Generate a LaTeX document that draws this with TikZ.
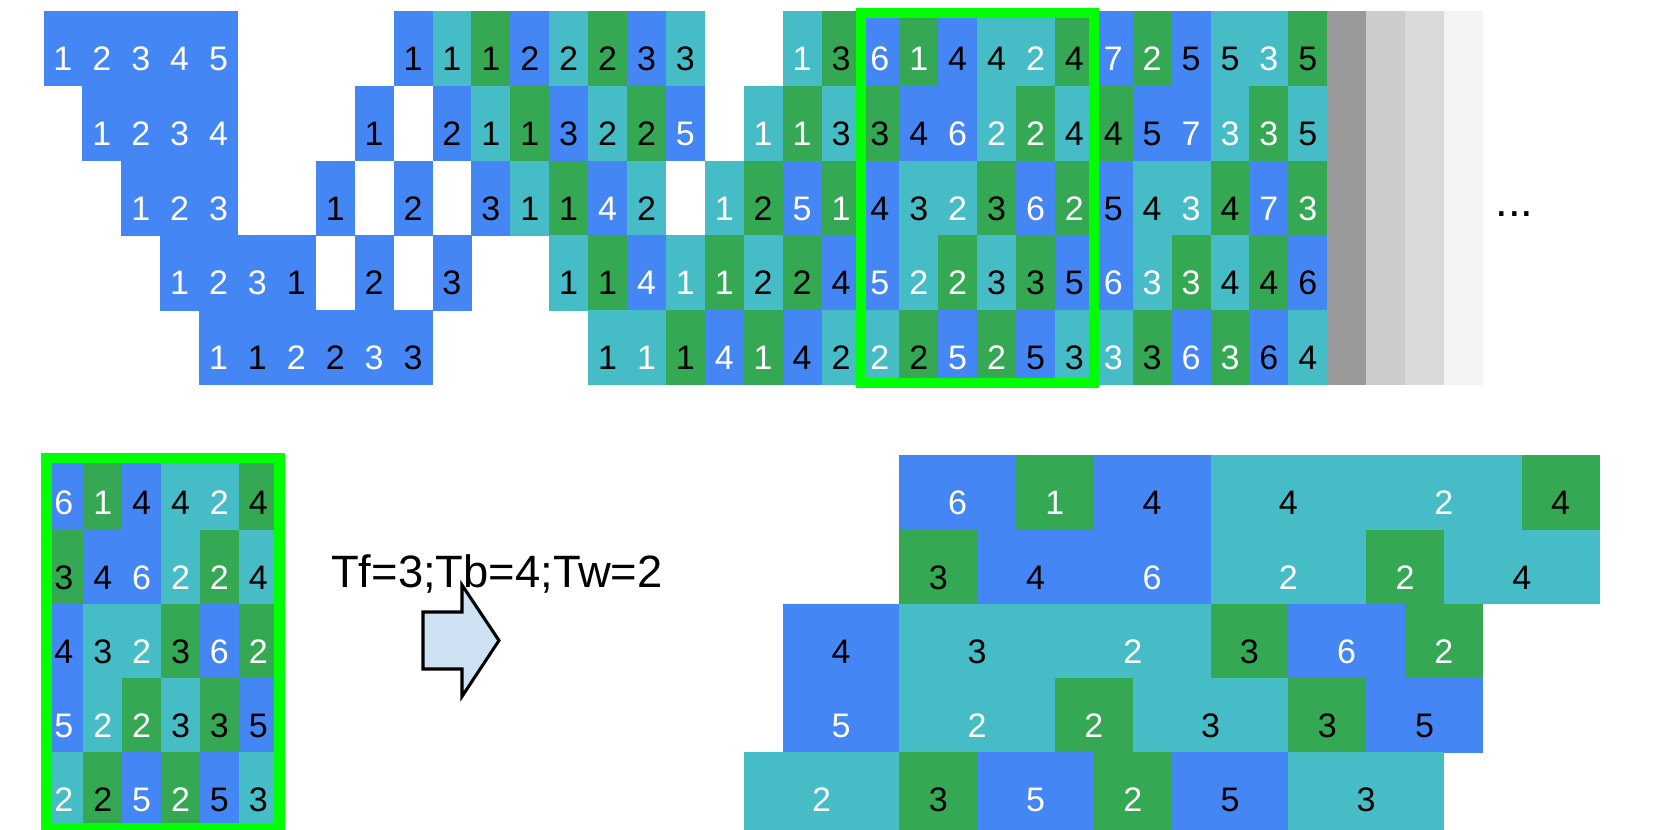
\documentclass[tikz,border=0pt]{standalone}
\usepackage{fontspec}
\setmainfont{Liberation Sans}
\definecolor{cB}{HTML}{4486F4}
\definecolor{cT}{HTML}{46BDC6}
\definecolor{cG}{HTML}{34A853}
\definecolor{cW}{HTML}{FFFFFF}
\definecolor{cK}{HTML}{000000}
\definecolor{gA}{HTML}{999999}
\definecolor{gB}{HTML}{CCCCCC}
\definecolor{gC}{HTML}{D9D9D9}
\definecolor{gD}{HTML}{F3F3F3}
\definecolor{boxgreen}{HTML}{00FF00}
\definecolor{arrowfill}{HTML}{CFE2F3}
\newcommand\digfont{\fontsize{25.5pt}{25.5pt}\selectfont}
\newcommand\lblfont{\fontsize{34pt}{34pt}\selectfont}
\begin{document}
\begin{tikzpicture}[x=0.75pt,y=-0.75pt,
  dig/.style={anchor=base,inner sep=0pt,font=\digfont},
  selbox/.style={draw=boxgreen,line width=7.9pt},
  bigarrow/.style={fill=arrowfill,draw=black,line width=2.3pt,line join=miter}]
\useasboundingbox (0,0) rectangle (1661,830);
\fill[white] (0,0) rectangle (1661,830);
% ---------- top grid ----------
\foreach \cx/\rw/\cc/\dg/\tc in {
 0/1/B/1/W,1/1/B/2/W,2/1/B/3/W,3/1/B/4/W,4/1/B/5/W,
 9/1/B/1/K,10/1/T/1/K,11/1/G/1/K,12/1/B/2/K,13/1/T/2/K,14/1/G/2/K,15/1/B/3/K,16/1/T/3/K,
 19/1/T/1/W,20/1/G/3/K,
 21/1/B/6/W,22/1/G/1/W,23/1/B/4/K,24/1/T/4/K,25/1/T/2/W,26/1/G/4/K,
 27/1/B/7/W,28/1/G/2/W,29/1/B/5/K,30/1/T/5/K,31/1/T/3/W,32/1/G/5/K,
 1/2/B/1/W,2/2/B/2/W,3/2/B/3/W,4/2/B/4/W,
 8/2/B/1/K,10/2/B/2/K,11/2/T/1/K,12/2/G/1/K,13/2/B/3/K,14/2/T/2/K,15/2/G/2/K,16/2/B/5/W,
 18/2/T/1/W,19/2/G/1/W,20/2/T/3/K,
 21/2/G/3/K,22/2/B/4/K,23/2/B/6/W,24/2/T/2/W,25/2/G/2/W,26/2/T/4/K,
 27/2/G/4/K,28/2/B/5/K,29/2/B/7/W,30/2/T/3/W,31/2/G/3/W,32/2/T/5/K,
 2/3/B/1/W,3/3/B/2/W,4/3/B/3/W,
 7/3/B/1/K,9/3/B/2/K,11/3/B/3/K,12/3/T/1/K,13/3/G/1/K,14/3/B/4/W,15/3/T/2/K,
 17/3/T/1/W,18/3/G/2/K,19/3/B/5/W,20/3/G/1/W,
 21/3/B/4/K,22/3/T/3/K,23/3/T/2/W,24/3/G/3/K,25/3/B/6/W,26/3/G/2/W,
 27/3/B/5/K,28/3/T/4/K,29/3/T/3/W,30/3/G/4/K,31/3/B/7/W,32/3/G/3/W,
 3/4/B/1/W,4/4/B/2/W,5/4/B/3/W,6/4/B/1/K,8/4/B/2/K,10/4/B/3/K,
 13/4/T/1/K,14/4/G/1/K,15/4/B/4/W,16/4/T/1/W,17/4/G/1/W,18/4/T/2/K,19/4/G/2/K,20/4/B/4/K,
 21/4/B/5/W,22/4/T/2/W,23/4/G/2/W,24/4/T/3/K,25/4/G/3/K,26/4/B/5/K,
 27/4/B/6/W,28/4/T/3/W,29/4/G/3/W,30/4/T/4/K,31/4/G/4/K,32/4/B/6/K,
 4/5/B/1/W,5/5/B/1/K,6/5/B/2/W,7/5/B/2/K,8/5/B/3/W,9/5/B/3/K,
 14/5/T/1/K,15/5/T/1/W,16/5/G/1/K,17/5/B/4/W,18/5/G/1/W,19/5/B/4/K,20/5/T/2/K,
 21/5/T/2/W,22/5/G/2/K,23/5/B/5/W,24/5/G/2/W,25/5/B/5/K,26/5/T/3/K,
 27/5/T/3/W,28/5/G/3/K,29/5/B/6/W,30/5/G/3/W,31/5/B/6/K,32/5/T/4/K}
{
  \fill[fill=c\cc] ({43.5+\cx*38.9},{11+(\rw-1)*74.8}) rectangle ++(39.3,75.2);
  \node[dig,text=c\tc] at ({43.5+(\cx+0.5)*38.9},{11+(\rw-1)*74.8+59.5}) {\dg};
}
% fading columns
\fill[gA] (1327.2,11) rectangle (1366.4,385);
\fill[gB] (1366.1,11) rectangle (1405.3,385);
\fill[gC] (1405,11) rectangle (1444.2,385);
\fill[gD] (1443.9,11) rectangle (1482.8,385);
\node[anchor=base,inner sep=0pt,font=\lblfont] (dots) at (1514.3,216.7) {...};
% selection box (top)
\draw[selbox] (861,13) rectangle (1094,383);
% ---------- bottom-left copy ----------
\foreach \cx/\rw/\cc/\dg/\tc in {
 0/1/B/6/W,1/1/G/1/W,2/1/B/4/K,3/1/T/4/K,4/1/T/2/W,5/1/G/4/K,
 0/2/G/3/K,1/2/B/4/K,2/2/B/6/W,3/2/T/2/W,4/2/G/2/W,5/2/T/4/K,
 0/3/B/4/K,1/3/T/3/K,2/3/T/2/W,3/3/G/3/K,4/3/B/6/W,5/3/G/2/W,
 0/4/B/5/W,1/4/T/2/W,2/4/G/2/W,3/4/T/3/K,4/4/G/3/K,5/4/B/5/K,
 0/5/T/2/W,1/5/G/2/K,2/5/B/5/W,3/5/G/2/W,4/5/B/5/K,5/5/T/3/K}
{
  \fill[fill=c\cc] ({44.4+\cx*38.9},{455.5+(\rw-1)*74.2}) rectangle ++(39.3,74.6);
  \node[dig,text=c\tc] at ({44.4+(\cx+0.5)*38.9},{455.5+(\rw-1)*74.2+59.5}) {\dg};
}
\draw[selbox] (46.3,457.8) rectangle (279.5,828.5);
% ---------- label and arrow ----------
\node[anchor=base west,inner sep=0pt,font=\lblfont] (lbl) at (331,587) {Tf=3;Tb=4;Tw=2};
\draw[bigarrow] (423,612) -- (462,612) -- (462,585) -- (499,640.5) -- (462,696.5) -- (462,669) -- (423,669) -- cycle;
% ---------- bottom-right stretched rows ----------
\foreach \s/\n/\rw/\cc/\dg/\tc in {
 22/3/1/B/6/W,25/2/1/G/1/W,27/3/1/B/4/K,30/4/1/T/4/K,34/4/1/T/2/W,38/2/1/G/4/K,
 22/2/2/G/3/K,24/3/2/B/4/K,27/3/2/B/6/W,30/4/2/T/2/W,34/2/2/G/2/W,36/4/2/T/4/K,
 19/3/3/B/4/K,22/4/3/T/3/K,26/4/3/T/2/W,30/2/3/G/3/K,32/3/3/B/6/W,35/2/3/G/2/W,
 19/3/4/B/5/W,22/4/4/T/2/W,26/2/4/G/2/W,28/4/4/T/3/K,32/2/4/G/3/K,34/3/4/B/5/K,
 18/4/5/T/2/W,22/2/5/G/3/K,24/3/5/B/5/W,27/2/5/G/2/W,29/3/5/B/5/K,32/4/5/T/3/K}
{
  \pgfmathsetmacro\hh{ifthenelse(\rw==5,85,74.6)}
  \fill[fill=c\cc] ({43.5+\s*38.9},{455.5+(\rw-1)*74.2}) rectangle ++({\n*38.9+0.4},\hh);
  \node[dig,text=c\tc] at ({43.5+(\s+\n/2)*38.9},{455.5+(\rw-1)*74.2+59.5}) {\dg};
}
\end{tikzpicture}
\end{document}
